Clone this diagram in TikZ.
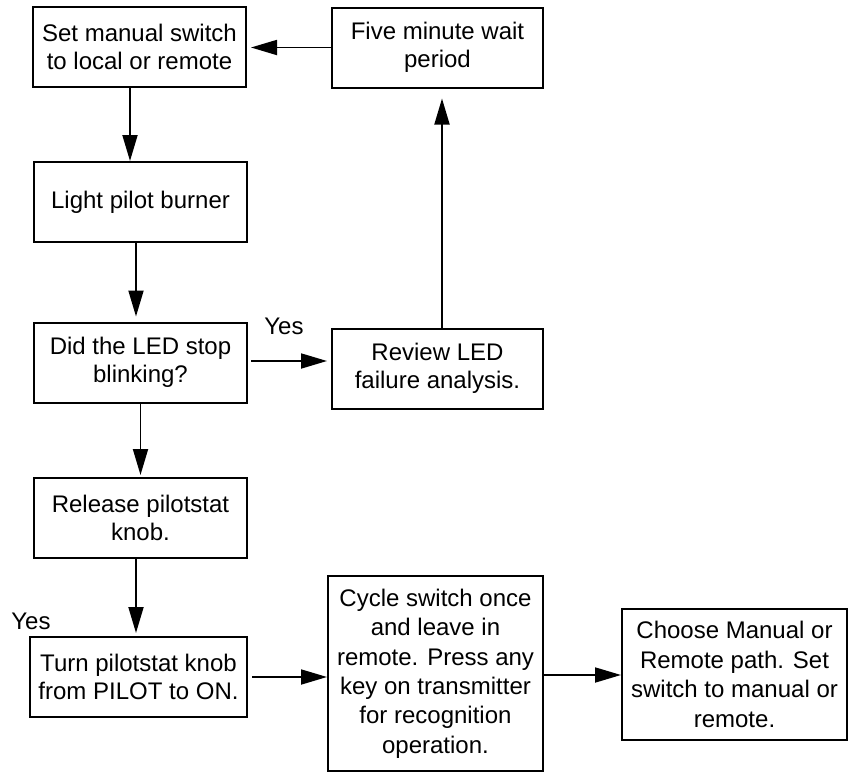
\documentclass[tikz,border=0pt]{standalone}
\usepackage{fontspec}
\setmainfont{Liberation Sans}
\usetikzlibrary{arrows.meta}

\begin{document}
\begin{tikzpicture}[x=0.5pt, y=-0.5pt,
  every node/.style={font=\fontsize{12}{14}\selectfont},
  stepbox/.style={draw, line width=1pt, align=center, inner sep=0pt,
    minimum width=106.5pt, minimum height=40pt},
  flow/.style={line width=0.9pt, -{Triangle[length=13pt, width=7.5pt]}}]
  \useasboundingbox (0,0) rectangle (848,772);
  \node[stepbox] (setsw) at (139.5,47) {Set manual switch\\to local or remote};
  \node[stepbox, minimum width=105.5pt] (waitp) at (437.5,47.5) {Five minute wait\\period};
  \node[stepbox] (light) at (140.5,202) {Light pilot burner};
  \node[stepbox] (ledq) at (140.5,362.5) {Did the LED stop\\blinking?};
  \node[stepbox, minimum width=105.5pt] (review) at (437.5,368.5) {Review LED\\failure analysis.};
  \node[stepbox] (release) at (140.5,518) {Release pilotstat\\knob.};
  \node[stepbox, minimum width=108.5pt] (turn) at (138.5,677) {Turn pilotstat knob\\from PILOT to ON.};
  \node[stepbox, minimum width=107.5pt, minimum height=97.5pt,
    font=\fontsize{12}{14.7}\selectfont] (cycle) at (435.5,673.5)
    {Cycle switch once\\and leave in\\remote. Press any\\key on transmitter\\for recognition\\operation.};
  \node[stepbox, minimum width=112.5pt, minimum height=65.5pt,
    font=\fontsize{12}{14.7}\selectfont] (choose) at (734.5,674.5)
    {Choose Manual or\\Remote path. Set\\switch to manual or\\remote.};
  \node (yes1) at (284,326) {Yes};
  \node (yes2) at (31,621) {Yes};

  \draw[flow, shorten >=2pt] (waitp.west) -- (waitp.west -| setsw.east);
  \draw[flow] ([xshift=-4.75pt]setsw.south) -- ([xshift=-4.75pt]setsw.south |- light.north);
  \draw[flow, shorten >=2.5pt] ([xshift=-2.25pt]light.south) -- ([xshift=-2.25pt]light.south |- ledq.north);
  \draw[flow, shorten <=1.5pt, shorten >=2pt] ([yshift=0.75pt]ledq.east) -- ([yshift=0.75pt]ledq.east -| review.west);
  \draw[flow, shorten >=5pt] ([xshift=2.25pt]review.north) -- ([xshift=2.25pt]review.north |- waitp.south);
  \draw[flow, shorten >=1pt] (ledq.south) -- (ledq.south |- release.north);
  \draw[flow, shorten >=1.5pt] ([xshift=-2.25pt]release.south) -- ([xshift=-2.25pt]release.south |- turn.north);
  \draw[flow, shorten <=2pt] (turn.east) -- (turn.east -| cycle.west);
  \draw[flow] ([yshift=-0.75pt]cycle.east) -- ([yshift=-0.75pt]cycle.east -| choose.west);
\end{tikzpicture}
\end{document}
